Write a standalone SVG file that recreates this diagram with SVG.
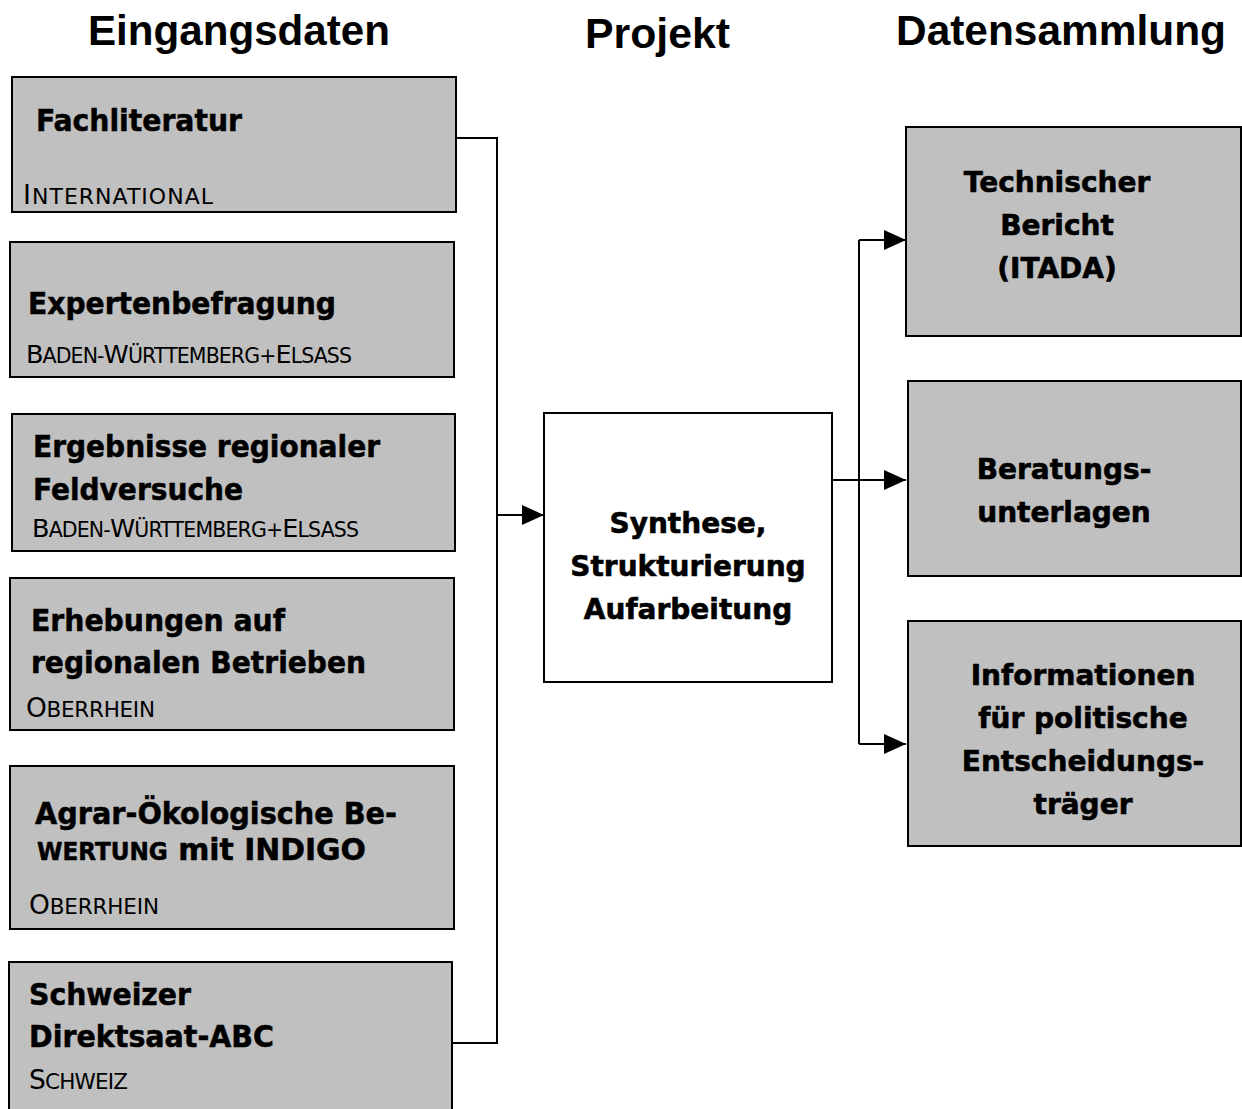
<svg xmlns="http://www.w3.org/2000/svg" width="1242" height="1109" viewBox="0 0 1242 1109">
<style>
.box{fill:#c0c0c0;stroke:#000;stroke-width:2}
.cbox{fill:#fff;stroke:#000;stroke-width:2}
.h{font-family:"Liberation Sans",Arial,sans-serif;font-weight:bold;font-size:42px;fill:#000}
.lb{font-family:"DejaVu Sans Condensed","DejaVu Sans",sans-serif;font-stretch:condensed;font-weight:bold;font-size:31px;fill:#000;stroke:#000;stroke-width:0.5}
.sc{font-family:"DejaVu Sans",sans-serif;font-size:20.5px;fill:#000}
.sc .c{font-size:25.5px}
.rb{font-family:"DejaVu Sans",sans-serif;font-weight:bold;font-size:28px;text-anchor:middle;fill:#000;stroke:#000;stroke-width:0.6}
.conn{fill:none;stroke:#000;stroke-width:2}
</style>
<defs>
<marker id="arr" markerUnits="userSpaceOnUse" markerWidth="22" markerHeight="20" refX="22" refY="10" orient="auto">
<path d="M0,0 L22,10 L0,20 Z" fill="#000"/>
</marker>
</defs>

<g id="headings">
<text class="h" x="88" y="45" textLength="302" lengthAdjust="spacingAndGlyphs">Eingangsdaten</text>
<text class="h" x="585" y="48" textLength="145" lengthAdjust="spacingAndGlyphs">Projekt</text>
<text class="h" x="896" y="45" textLength="330" lengthAdjust="spacingAndGlyphs">Datensammlung</text>
</g>

<g id="fachliteratur">
<rect class="box" x="12" y="77" width="444" height="135"/>
<text class="lb" x="36" y="131" textLength="206" lengthAdjust="spacingAndGlyphs">Fachliteratur</text>
<text class="sc" x="23" y="204" textLength="190" style="font-size:22px"><tspan class="c" style="font-size:27px">I</tspan>NTERNATIONAL</text>
</g>

<g id="expertenbefragung">
<rect class="box" x="10" y="242" width="444" height="135"/>
<text class="lb" x="28" y="314" textLength="308" lengthAdjust="spacingAndGlyphs">Expertenbefragung</text>
<text class="sc" x="26" y="363" textLength="326"><tspan class="c">B</tspan>ADEN-<tspan class="c">W</tspan>ÜRTTEMBERG+<tspan class="c">E</tspan>LSASS</text>
</g>

<g id="feldversuche">
<rect class="box" x="12" y="414" width="443" height="137"/>
<text class="lb" x="33" y="457" textLength="347" lengthAdjust="spacingAndGlyphs">Ergebnisse regionaler</text>
<text class="lb" x="33" y="500" textLength="210" lengthAdjust="spacingAndGlyphs">Feldversuche</text>
<text class="sc" x="32" y="537" textLength="327"><tspan class="c">B</tspan>ADEN-<tspan class="c">W</tspan>ÜRTTEMBERG+<tspan class="c">E</tspan>LSASS</text>
</g>

<g id="erhebungen">
<rect class="box" x="10" y="578" width="444" height="152"/>
<text class="lb" x="31" y="631" textLength="254" lengthAdjust="spacingAndGlyphs">Erhebungen auf</text>
<text class="lb" x="31" y="673" textLength="335" lengthAdjust="spacingAndGlyphs">regionalen Betrieben</text>
<text class="sc" x="26" y="717" textLength="129" style="font-size:21.5px"><tspan class="c" style="font-size:26.5px">O</tspan>BERRHEIN</text>
</g>

<g id="indigo">
<rect class="box" x="10" y="766" width="444" height="163"/>
<text class="lb" x="35" y="824" textLength="362" lengthAdjust="spacingAndGlyphs">Agrar-Ökologische Be-</text>
<text class="lb" x="37" y="860" textLength="329" lengthAdjust="spacingAndGlyphs"><tspan style="font-size:24px">WERTUNG</tspan> mit INDIGO</text>
<text class="sc" x="29" y="914" textLength="130" style="font-size:21.5px"><tspan class="c" style="font-size:26.5px">O</tspan>BERRHEIN</text>
</g>

<g id="direktsaat">
<rect class="box" x="9" y="962" width="443" height="160"/>
<text class="lb" x="29" y="1005" textLength="162" lengthAdjust="spacingAndGlyphs">Schweizer</text>
<text class="lb" x="29" y="1047" textLength="245" lengthAdjust="spacingAndGlyphs">Direktsaat-ABC</text>
<text class="sc" x="29" y="1089" textLength="99" style="font-size:21.5px"><tspan class="c" style="font-size:26.5px">S</tspan>CHWEIZ</text>
</g>

<g id="synthese">
<rect class="cbox" x="544" y="413" width="288" height="269"/>
<text class="rb" x="688" y="533">Synthese,</text>
<text class="rb" x="688" y="576">Strukturierung</text>
<text class="rb" x="688" y="619">Aufarbeitung</text>
</g>

<g id="bericht">
<rect class="box" x="906" y="127" width="335" height="209"/>
<text class="rb" x="1057" y="192">Technischer</text>
<text class="rb" x="1057" y="235">Bericht</text>
<text class="rb" x="1057" y="278">(ITADA)</text>
</g>

<g id="beratung">
<rect class="box" x="908" y="381" width="333" height="195"/>
<text class="rb" x="1064" y="479">Beratungs-</text>
<text class="rb" x="1064" y="522">unterlagen</text>
</g>

<g id="politik">
<rect class="box" x="908" y="621" width="333" height="225"/>
<text class="rb" x="1083" y="685">Informationen</text>
<text class="rb" x="1083" y="728">für politische</text>
<text class="rb" x="1083" y="771">Entscheidungs-</text>
<text class="rb" x="1083" y="814">träger</text>
</g>

<g id="connectors">
<path class="conn" d="M456,138 H497 V1043 H452"/>
<path class="conn" d="M497,515 H544" marker-end="url(#arr)"/>
<path class="conn" d="M832,480 H906" marker-end="url(#arr)"/>
<path class="conn" d="M859,240 V744"/>
<path class="conn" d="M859,240 H906" marker-end="url(#arr)"/>
<path class="conn" d="M859,744 H906" marker-end="url(#arr)"/>
</g>
</svg>
